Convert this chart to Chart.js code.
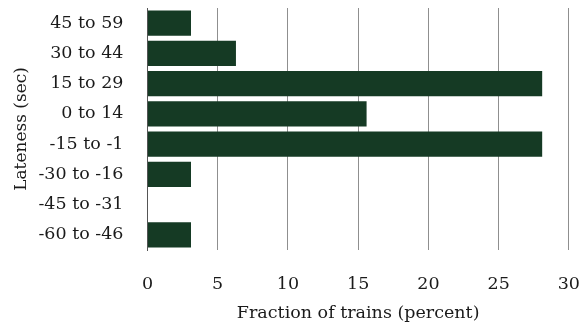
<!DOCTYPE html>
<html><head><meta charset="utf-8">
<script src="https://cdn.jsdelivr.net/npm/chart.js@4"></script>
<style>html,body{margin:0;padding:0;background:#fff}#wrap{width:580px;height:331px}</style>
</head><body><div id="wrap"><canvas id="c"></canvas></div>
<script>
const categories = ["45 to 59","30 to 44","15 to 29","0 to 14","-15 to -1","-30 to -16","-45 to -31","-60 to -46"];
const fractions = [3.1, 6.3, 28.1, 15.6, 28.1, 3.1, 0, 3.1];
const xTicks = [0,5,10,15,20,25,30];
const FONT = "'DejaVu Serif', serif";
const FS = 17.5;
new Chart(document.getElementById('c'), {
  type: 'bar',
  data: { labels: categories, datasets: [{ data: fractions, backgroundColor: '#153a24', barPercentage: 0.83, categoryPercentage: 1 }] },
  options: {
    indexAxis: 'y', responsive: true, maintainAspectRatio: false, animation: false,
    layout: { padding: { left: 11, top: 8, right: 0, bottom: 7 } },
    plugins: { legend: { display: false }, tooltip: { enabled: false } },
    scales: {
      x: {
        min: 0, max: 30,
        afterBuildTicks: ax => { ax.ticks = xTicks.map(v => ({ value: v })); },
        grid: { color: '#8f8f8f', lineWidth: 1, drawTicks: true, tickLength: 24, tickColor: 'rgba(0,0,0,0)' },
        border: { display: false },
        ticks: { color: '#1a1a1a', font: { family: FONT, size: FS }, padding: 0, maxRotation: 0 },
        title: { display: true, text: 'Fraction of trains (percent)', color: '#1a1a1a', font: { family: FONT, size: FS }, padding: { top: 8, bottom: 0 } }
      },
      y: {
        grid: { display: true, drawOnChartArea: false, drawTicks: true, tickLength: 24, color: 'rgba(0,0,0,0)', tickColor: 'rgba(0,0,0,0)' },
        border: { display: true, color: '#555' },
        ticks: { color: '#1a1a1a', font: { family: FONT, size: FS, lineHeight: 0.9 }, padding: 0 },
        title: { display: true, text: 'Lateness (sec)', color: '#1a1a1a', font: { family: FONT, size: 17 }, padding: { top: 0, bottom: 7 } }
      }
    }
  }
});
</script></body></html>
